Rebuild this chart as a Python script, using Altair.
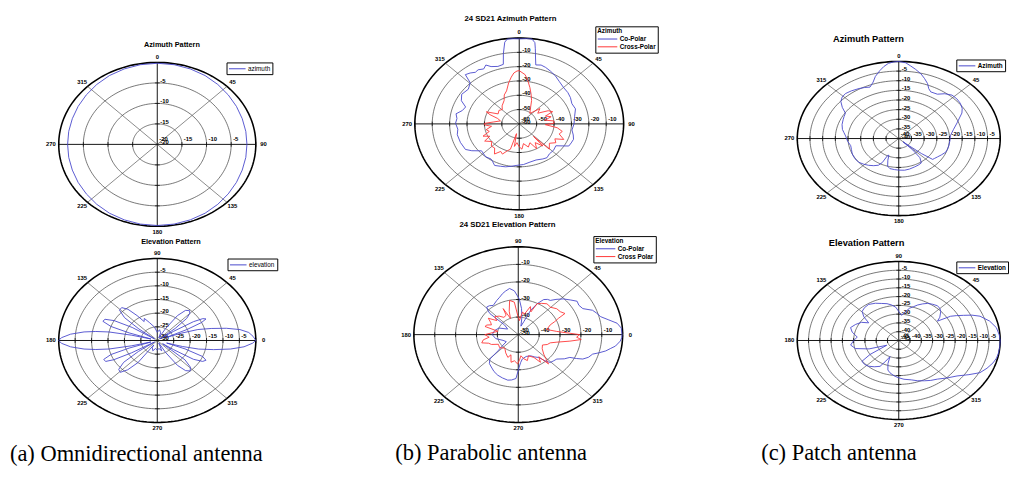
import altair as alt
import pandas as pd

BLUE = "#4646cc"
RED = "#ff3333"
SANS = "Liberation Sans"
SERIF = "Liberation Serif"

# ---------------- grid levels ----------------
A_AZ_RINGS = [0, -5, -10, -15, -20]
A_EL_RINGS = [0, -5, -10, -15, -20, -25, -30]
B_AZ_RINGS = [0, -10, -20, -30, -40, -50, -60]
B_EL_RINGS = [0, -10, -20, -30, -40, -50]
C_AZ_RINGS = [0, -5, -10, -15, -20, -25, -30, -35, -40]
C_EL_RINGS = [0, -5, -10, -15, -20, -25, -30, -35, -40, -45]
ANGLE_LABELS = [0, 45, 90, 135, 180, 225, 270, 315]
SPOKES = [0, 45, 90, 135]
CIRCLE_STEPS = list(range(0, 361, 2))

# ---------------- (a) omnidirectional ----------------
A_AZ_ANG = [0, 10, 20, 30, 40, 50, 60, 70, 80, 90, 100, 110, 120, 130, 140, 150, 160, 170,
            180, 190, 200, 210, 220, 230, 240, 250, 260, 270, 280, 290, 300, 310, 320, 330, 340, 350]
A_AZ_DB = [-0.2, -0.25, -0.4, -0.6, -0.9, -1.2, -1.45, -1.65, -1.75, -1.8, -1.75, -1.65, -1.45, -1.2, -0.9, -0.6, -0.4, -0.25,
           -0.2, -0.25, -0.4, -0.6, -0.9, -1.2, -1.45, -1.65, -1.75, -1.8, -1.75, -1.65, -1.45, -1.2, -0.9, -0.6, -0.4, -0.25]

A_EL_ANG = [0, 3, 6, 9, 12, 15, 18, 20, 22, 24, 26, 28, 30, 32, 34, 36, 39, 42, 45, 48, 52, 56, 60, 63,
            70, 80, 90, 100, 110, 116, 120, 124, 128, 132, 136, 140, 143, 145, 148, 151, 154, 157, 160, 162, 164,
            166, 168, 170, 172, 175, 178, 180, 182, 185, 188, 190, 192, 194, 196, 198, 200, 203, 206, 208, 210, 213,
            215, 218, 222, 226, 230, 234, 237, 240, 250, 260, 270, 280, 290, 297, 300, 304, 308, 312, 316, 320, 324,
            326, 328, 331, 334, 337, 340, 342, 344, 346, 349, 352, 355, 358]
A_EL_DB = [0, -0.8, -2, -4.5, -8.5, -13, -17, -22, -27, -20, -15, -13.2, -14, -17, -24, -29, -23, -18, -16, -15.3, -16, -19, -25, -29,
           -27, -26, -27, -25, -23, -21, -22, -19, -15.5, -13.8, -14, -17, -23, -29, -21, -15, -12.3, -12, -15, -21, -28,
           -22, -15, -11, -7.5, -3.5, -0.8, 0, -0.8, -3.5, -7.5, -11, -15, -22, -28, -21, -15, -12.3, -12.5, -15, -21, -29,
           -23, -17, -14.2, -13.8, -16, -20, -28, -27, -26, -27, -26.5, -27, -26, -29, -25, -19, -16, -15, -16, -19, -28,
           -24, -17, -14.2, -13.5, -15, -21, -27, -22, -17, -12.5, -7.5, -3.5, -1]

# ---------------- (b) parabolic ----------------
B_AZ_CO_ANG = [0, 4, 7, 9, 10, 11.5, 13, 17, 21, 26, 32, 38, 45, 52, 58, 65, 72, 81, 90, 98, 104, 109, 114, 118.5,
               122, 126, 133, 140.5, 146, 151, 159, 167, 175, 182.6, 189, 194.6, 200, 206, 210, 213.5, 220, 229,
               235.5, 240, 249, 258, 264, 270.7, 276, 281, 286, 291, 296, 302, 309.7, 315.6, 318, 321.6, 325, 328,
               332, 335, 338, 343, 347.6, 349.5, 351.7, 353.4, 357]
B_AZ_CO_DB = [-0.6, -0.3, -0.2, -2.5, -6.7, -13, -17.7, -17, -17.7, -19, -20.6, -22.5, -24, -24.5, -25.3, -26.6, -26, -27.8, -28.5, -29.4, -28, -27, -27.3, -27.6,
              -31, -34, -33, -32.8, -31.5, -32, -33, -32.6, -31.5, -31, -30, -29, -28.5, -27.7, -29.5, -30.6, -30, -31.3,
              -26.9, -24.3, -23.8, -23.6, -24.5, -23.4, -24, -23, -26, -27, -23, -21, -22, -19.7, -13.7, -14.6, -16, -15.4,
              -16.5, -14.6, -16.8, -18, -17.4, -10, -2.3, -0.3, -0.4]
B_AZ_X_ANG = [0, 5.6, 9, 13.6, 18, 23.5, 30, 40, 48, 55, 61, 66, 70, 74.7, 80, 84, 88.7, 92, 97, 102, 107, 113, 117, 122,
              128, 135.6, 137, 138.7, 145, 150, 155, 162, 170, 175, 180, 185.7, 190, 193, 196, 200, 204.6, 209, 214,
              220, 226, 232, 238.9, 243, 247.6, 253, 258, 264, 268, 271, 275, 281, 287, 291, 294, 300, 309, 316, 322,
              332, 337, 342.5, 348, 352, 355, 358]
B_AZ_X_DB = [-22.8, -25.4, -29, -33.9, -38, -42.2, -47, -50.5, -44, -47, -41, -39, -44, -41, -45, -40, -40, -45, -38, -34.7, -36, -32.2, -37, -35.2,
             -38, -35.3, -48, -39.5, -44, -40, -45.5, -43, -46, -42.3, -44, -46.8, -44, -53, -41.6, -40, -36.8, -38, -34.6,
             -38, -37.7, -40, -36.8, -41, -37.5, -42, -40.6, -44, -40.1, -40, -45, -49, -47, -42, -39.3, -46, -45, -46, -44,
             -41.5, -38, -35.8, -30.7, -27, -24.3, -23]

B_EL_CO_ANG = [0, 4.3, 7.8, 10.9, 14.5, 18, 21.3, 25.6, 30, 34, 38, 43.4, 48, 51.8, 55, 58.6, 62.8, 66.8, 70, 75, 80, 84,
               88.7, 94.3, 99, 104, 108, 112.7, 118, 125.8, 130, 134, 136.5, 138.6, 140, 148, 158, 168, 180, 192, 204,
               215, 220, 223.6, 225.6, 230, 235, 241, 247, 253, 259, 263, 267.5, 271.4, 274, 278, 287, 296, 302, 307,
               311, 314, 318, 323, 328, 332.3, 334, 335.8, 339, 342.7, 345, 347.5, 350, 352, 355.7, 358]
B_EL_CO_DB = [-0.3, -0.5, -2.2, -5.8, -9.2, -10.5, -11.8, -15.7, -16.5, -16, -18, -20.4, -23, -25.2, -25.5, -26.6, -30.2, -34.9, -42, -45, -40, -35,
              -29.6, -25, -23.4, -24.5, -25.5, -26.9, -28, -29.5, -28.5, -28.2, -30, -31.9, -41.4, -44, -40, -38.5, -37.5, -39, -42,
              -43, -40, -36.6, -30.6, -28.5, -27.5, -26, -24.9, -24.2, -23.6, -24, -25, -31.5, -34, -36, -37, -36.6, -35, -33.7,
              -30, -28, -27.5, -26.9, -24, -22.1, -19, -16.1, -14, -12.7, -10, -7.1, -5, -3, -1, -0.4]
B_EL_X_ANG = [0, 2, 5.7, 12, 20, 23, 25.7, 28.3, 33, 38.7, 45, 52, 58, 62.8, 65, 70, 76, 81, 86, 91.5, 95.8, 102, 108, 112,
              116, 117.6, 125, 131, 137.8, 142, 147, 152, 156.5, 160, 163.7, 169, 174, 180, 186, 190, 195, 199, 203.5,
              210, 219.8, 230, 240, 249, 253, 257.6, 263, 269, 273, 276, 281, 286.5, 292, 300, 304, 308, 311, 314,
              317.7, 325, 333, 338, 343, 347, 351.5, 354.7, 357]
B_EL_X_DB = [-20.6, -25.6, -31.5, -36, -33.7, -31, -28.7, -24.6, -26, -26.4, -28, -27.7, -29, -30.2, -35.7, -33, -38, -36.9, -42, -38.9, -31.4, -30.1, -36, -40,
             -33.5, -37.5, -38, -36, -34.8, -37, -32.9, -35, -36, -34, -33.4, -40.1, -38, -34, -36, -33, -31.9, -35, -36,
             -39, -38.4, -40, -38, -36.1, -38, -33.9, -35, -33.3, -36, -37.9, -36, -34.6, -37, -35, -31, -34, -27.9, -31,
             -33.5, -36, -37, -35, -34, -31, -25, -19.7, -22]

# ---------------- (c) patch ----------------
C_AZ_ANG = [0, 4, 7, 10.5, 14.6, 18, 21.7, 24.5, 27.5, 30.5, 33.5, 38, 43, 48, 53, 58, 62, 66, 70.5, 78, 86, 93, 100.7,
            106, 111, 117, 122, 126, 129, 131, 133, 135, 137, 140, 145, 151, 157, 165, 172, 180, 186, 192.6, 197, 201,
            204, 206.5, 207.5, 210, 215, 220.6, 226, 232, 239, 246.4, 253, 259, 266, 273.7, 278, 282, 288, 294, 298,
            302, 306, 310, 314, 318, 323, 329, 333, 337, 341, 344, 348, 351, 354, 357]
C_AZ_DB = [0, -0.6, -2, -3.5, -5.3, -7.2, -9.3, -11.5, -12.7, -12.6, -12.4, -10.5, -9.2, -9.2, -9.6, -10.5, -11.8, -13.8, -15.6, -18, -19.6, -19.8, -19.9,
           -20, -20.2, -21.2, -22, -22.5, -22.8, -28, -35, -37.6, -32, -27, -24.5, -24.2, -24, -23.6, -23.4, -23.6, -23.8, -24, -25, -28,
           -30.5, -30.2, -26, -24, -22.8, -21.7, -20.8, -20, -19.8, -20, -20.5, -20.7, -19.8, -19, -18.2, -17.3, -16.5, -16, -15.6,
           -15.2, -12.5, -10.2, -9, -8.6, -9, -9.7, -10.3, -11, -9, -6.5, -4, -2.2, -0.8, -0.2]
C_EL_ANG = [0, 4, 9.6, 15.3, 21, 24, 26.5, 29, 31, 32.7, 36, 41.6, 45, 49, 54, 58.8, 63, 67.4, 71, 75.4, 80, 85, 90, 94,
            99, 104, 109.7, 116, 123, 129, 134.5, 139, 143, 148, 154.4, 161, 167, 174, 180, 187, 193.5, 200, 207, 212,
            216, 222, 227.7, 234, 240.6, 244, 247, 250, 254, 258, 264, 269, 276, 283.9, 290, 296.3, 302, 308, 315,
            322, 328, 333, 338, 343, 347, 350.7, 355]
C_EL_DB = [0, -0.3, -1.1, -3.2, -6.4, -9.5, -12.9, -15.8, -18.2, -24.6, -22.5, -20.1, -19.2, -18.8, -19.5, -20.3, -21.6, -23.1, -24.6, -26, -28.5, -30.6, -28.5, -26,
           -24.5, -23.4, -22.6, -21.4, -20.5, -20.9, -21.8, -24.5, -28.3, -25.5, -23.8, -22.4, -23.8, -26.5, -25, -23.5, -25.3, -31, -39, -30,
           -24.8, -24.6, -25.2, -26.5, -28.1, -32, -35, -31, -27.5, -26.2, -24.8, -23.9, -22.8, -21.9, -20.6, -19.4, -18.2, -17.1, -14.8,
           -12.2, -8.3, -4.6, -2.8, -1.3, -0.5, -0.2, -0.1]

# ---------------- captions ----------------
CAPTIONS = ["(a) Omnidirectional antenna", "(b) Parabolic antenna", "(c) Patch antenna"]


def to_xy(chart, mode):
    if mode == "az":
        return chart.transform_calculate(x="datum.r*sin(datum.a*PI/180)").transform_calculate(
            y="datum.r*cos(datum.a*PI/180)")
    return chart.transform_calculate(x="datum.r*cos(datum.a*PI/180)").transform_calculate(
        y="datum.r*sin(datum.a*PI/180)")


def panel(P):
    rings = P["rings"]
    lo = rings[-1]
    span = -lo
    L, R, T, B = P["box"]
    W, H = R - L, B - T
    cx, cy, rx, ry = P["cx"], P["cy"], P["rx"], P["ry"]
    xs = alt.Scale(domain=[(L - cx) / rx, (R - cx) / rx], nice=False, zero=False)
    ys = alt.Scale(domain=[(cy - B) / ry, (cy - T) / ry], nice=False, zero=False)

    def X(f):
        return alt.X(f"{f}:Q", scale=xs, axis=None)

    def Y(f):
        return alt.Y(f"{f}:Q", scale=ys, axis=None)

    rexpr = f"max(0, (datum.v - ({lo})) / {span})"
    mode = P["mode"]
    layers = []

    # rings
    ring_df = pd.DataFrame([{"v": v, "a": a} for v in rings[:-1] for a in CIRCLE_STEPS])
    ring_base = to_xy(alt.Chart(ring_df).transform_calculate(r=rexpr), mode)
    layers.append(ring_base.transform_filter("datum.v < 0").mark_line(
        stroke="#3a3a3a", strokeWidth=0.7).encode(x=X("x"), y=Y("y"), detail="v:N", order="a:Q"))
    layers.append(ring_base.transform_filter("datum.v == 0").mark_line(
        stroke="black", strokeWidth=1.6).encode(x=X("x"), y=Y("y"), detail="v:N", order="a:Q"))

    # spokes
    spoke = alt.Chart(pd.DataFrame({"a": SPOKES})).transform_calculate(
        x="sin(datum.a*PI/180)").transform_calculate(
        x2="-sin(datum.a*PI/180)").transform_calculate(
        y="cos(datum.a*PI/180)").transform_calculate(
        y2="-cos(datum.a*PI/180)")
    layers.append(spoke.transform_filter("datum.a % 90 != 0").mark_rule(
        stroke="#555555", strokeWidth=0.7).encode(x=X("x"), x2="x2:Q", y=Y("y"), y2="y2:Q"))
    layers.append(spoke.transform_filter("datum.a % 90 == 0").mark_rule(
        stroke="#111111", strokeWidth=1).encode(x=X("x"), x2="x2:Q", y=Y("y"), y2="y2:Q"))

    # ticks on the axes
    sg_df = pd.DataFrame([{"v": v, "sg": s} for v in rings[:-1] for s in (1, -1)])
    tb = alt.Chart(sg_df).transform_calculate(r=rexpr).transform_calculate(
        p="datum.sg*datum.r").transform_calculate(z="0")
    layers.append(tb.mark_tick(orient="horizontal", size=5, thickness=1, color="black").encode(
        x=X("z"), y=Y("p")))
    layers.append(tb.mark_tick(orient="vertical", size=5, thickness=1, color="black").encode(
        x=X("p"), y=Y("z")))

    # angle labels
    kx = 1 + 8.0 / rx
    ky = 1 + 6.0 / ry
    lab = alt.Chart(pd.DataFrame({"a": ANGLE_LABELS, "t": [str(a) for a in ANGLE_LABELS]}))
    if mode == "az":
        lab = lab.transform_calculate(x=f"{kx}*sin(datum.a*PI/180)").transform_calculate(
            y=f"{ky}*cos(datum.a*PI/180)")
    else:
        lab = lab.transform_calculate(x=f"{kx}*cos(datum.a*PI/180)").transform_calculate(
            y=f"{ky}*sin(datum.a*PI/180)")
    tkw = dict(font=SANS, fontSize=6, fontWeight="bold", color="black", align="center", baseline="middle")
    if P.get("clip"):
        tkw["clip"] = True
    layers.append(lab.mark_text(**tkw).encode(x=X("x"), y=Y("y"), text="t:N"))

    # radial labels
    rl = alt.Chart(pd.DataFrame({"v": rings[1:], "t": [str(v) for v in rings[1:]]})).transform_calculate(
        r=rexpr).transform_calculate(z="0")
    layers.append(rl.mark_text(font=SANS, fontSize=6, fontWeight="bold", color="black", align="left",
                               baseline="middle", dx=3, dy=-2).encode(x=X("z"), y=Y("r"), text="t:N"))
    layers.append(rl.mark_text(font=SANS, fontSize=6, fontWeight="bold", color="black", align="left",
                               baseline="middle", dx=2, dy=-5).encode(x=X("r"), y=Y("z"), text="t:N"))

    # pattern curves
    rows = []
    names, colors = [], []
    for name, color, ang, db in P["series"]:
        assert len(ang) == len(db), name
        names.append(name)
        colors.append(color)
        n = len(ang)
        for i in range(n + 1):
            rows.append({"s": name, "i": i, "a": ang[i % n], "v": db[i % n]})
    pat = to_xy(alt.Chart(pd.DataFrame(rows)).transform_calculate(r=rexpr), mode)
    # stroke symbol: unit size 8 px, path stretched to the wanted line length
    unit = 8.0
    half = unit / 2.0
    sym_len = P["sym"]
    path = f"M-1,0H{(sym_len - half) / half:.3f}"
    leg = dict(orient="none", legendX=P["lx"] - L, legendY=P["ly"] - T, symbolType=path,
               symbolSize=unit ** 2, symbolStrokeWidth=1, symbolFillColor="transparent",
               labelFont=SANS, labelFontSize=6.5,
               labelFontWeight=P["lfw"], labelColor="black", padding=2, strokeColor="black",
               fillColor="white", rowPadding=0, labelOffset=sym_len + 2 - unit, cornerRadius=0,
               direction="vertical")
    if len(colors) == 1:
        leg["symbolStrokeColor"] = colors[0]
    if P.get("legend_title"):
        leg.update(title=P["legend_title"], titleFont=SANS, titleFontSize=6.5, titleFontWeight="bold",
                   titleColor="black", titlePadding=0)
    else:
        leg["title"] = None
    layers.append(pat.mark_line(strokeWidth=0.9).encode(
        x=X("x"), y=Y("y"), order="i:Q",
        color=alt.Color("s:N", scale=alt.Scale(domain=names, range=colors), legend=alt.Legend(**leg))))

    # panel title
    layers.append(alt.Chart(pd.DataFrame({"t": [P["title"]]})).mark_text(
        font=SANS, fontSize=P["tfs"], fontWeight="bold", color="black", align="center", baseline="middle").encode(
        x=alt.value(P["tx"] - L), y=alt.value(P["ty"] - T), text="t:N"))

    return alt.layer(*layers).properties(width=W, height=H)


A_TOP = dict(box=(8, 285, 8, 238), cx=161, cy=142, rx=101, ry=84, mode="az", rings=A_AZ_RINGS,
             title="Azimuth Pattern", tx=176, ty=40, tfs=7.5,
             series=[("azimuth", BLUE, A_AZ_ANG, A_AZ_DB)], lx=232, ly=58, sym=17, lfw="normal")
A_BOT = dict(box=(8, 285, 238, 438), cx=161, cy=342, rx=101, ry=84, mode="el", rings=A_EL_RINGS,
             title="Elevation Pattern", tx=175, ty=241, tfs=7.5,
             series=[("elevation", BLUE, A_EL_ANG, A_EL_DB)], lx=233, ly=258, sym=17, lfw="normal")
B_TOP = dict(box=(390, 670, 8, 219), cx=532, cy=121, rx=107, ry=88, mode="az", rings=B_AZ_RINGS,
             title="24 SD21 Azimuth Pattern", tx=523, ty=14, tfs=8,
             series=[("Co-Polar", BLUE, B_AZ_CO_ANG, B_AZ_CO_DB), ("Cross-Polar", RED, B_AZ_X_ANG, B_AZ_X_DB)],
             legend_title="Azimuth", lx=610, ly=21, sym=20, lfw="bold")
B_BOT = dict(box=(390, 670, 219, 438), cx=531, cy=337, rx=107, ry=90, mode="el", rings=B_EL_RINGS,
             title="24 SD21 Elevation Pattern", tx=520, ty=225, tfs=8,
             series=[("Co-Polar", BLUE, B_EL_CO_ANG, B_EL_CO_DB), ("Cross Polar", RED, B_EL_X_ANG, B_EL_X_DB)],
             legend_title="Elevation", lx=608, ly=236, sym=20, lfw="bold")
C_TOP = dict(box=(775, 1009, 8, 234), cx=901, cy=136, rx=104, ry=79, mode="az", rings=C_AZ_RINGS,
             title="Azimuth Pattern", tx=870, ty=34, tfs=9.5,
             series=[("Azimuth", BLUE, C_AZ_ANG, C_AZ_DB)], lx=960, ly=55, sym=17, lfw="bold", clip=True)
C_BOT = dict(box=(775, 1009, 234, 438), cx=901, cy=343, rx=104, ry=81, mode="el", rings=C_EL_RINGS,
             title="Elevation Pattern", tx=868, ty=243, tfs=9.5,
             series=[("Elevation", BLUE, C_EL_ANG, C_EL_DB)], lx=960, ly=262, sym=17, lfw="bold", clip=True)


def column(top, bot, caption, dx):
    return alt.vconcat(
        panel(top), panel(bot), spacing=0,
        title=alt.TitleParams(caption, orient="bottom", anchor="start", font=SERIF, fontSize=23,
                              fontWeight="normal", color="black", offset=10, dx=dx),
    ).resolve_scale(color="independent").resolve_legend(color="independent")


chart = alt.hconcat(
    column(A_TOP, A_BOT, CAPTIONS[0], 2),
    column(B_TOP, B_BOT, CAPTIONS[1], 15),
    column(C_TOP, C_BOT, CAPTIONS[2], -15),
    spacing=105,
    padding={"left": 0, "right": 0, "top": 0, "bottom": 0},
    background="white",
).resolve_scale(color="independent").resolve_legend(color="independent").configure_view(
    strokeWidth=0, stroke="transparent")

chart.save("out.html", embed_options={"renderer": "svg", "actions": False})
